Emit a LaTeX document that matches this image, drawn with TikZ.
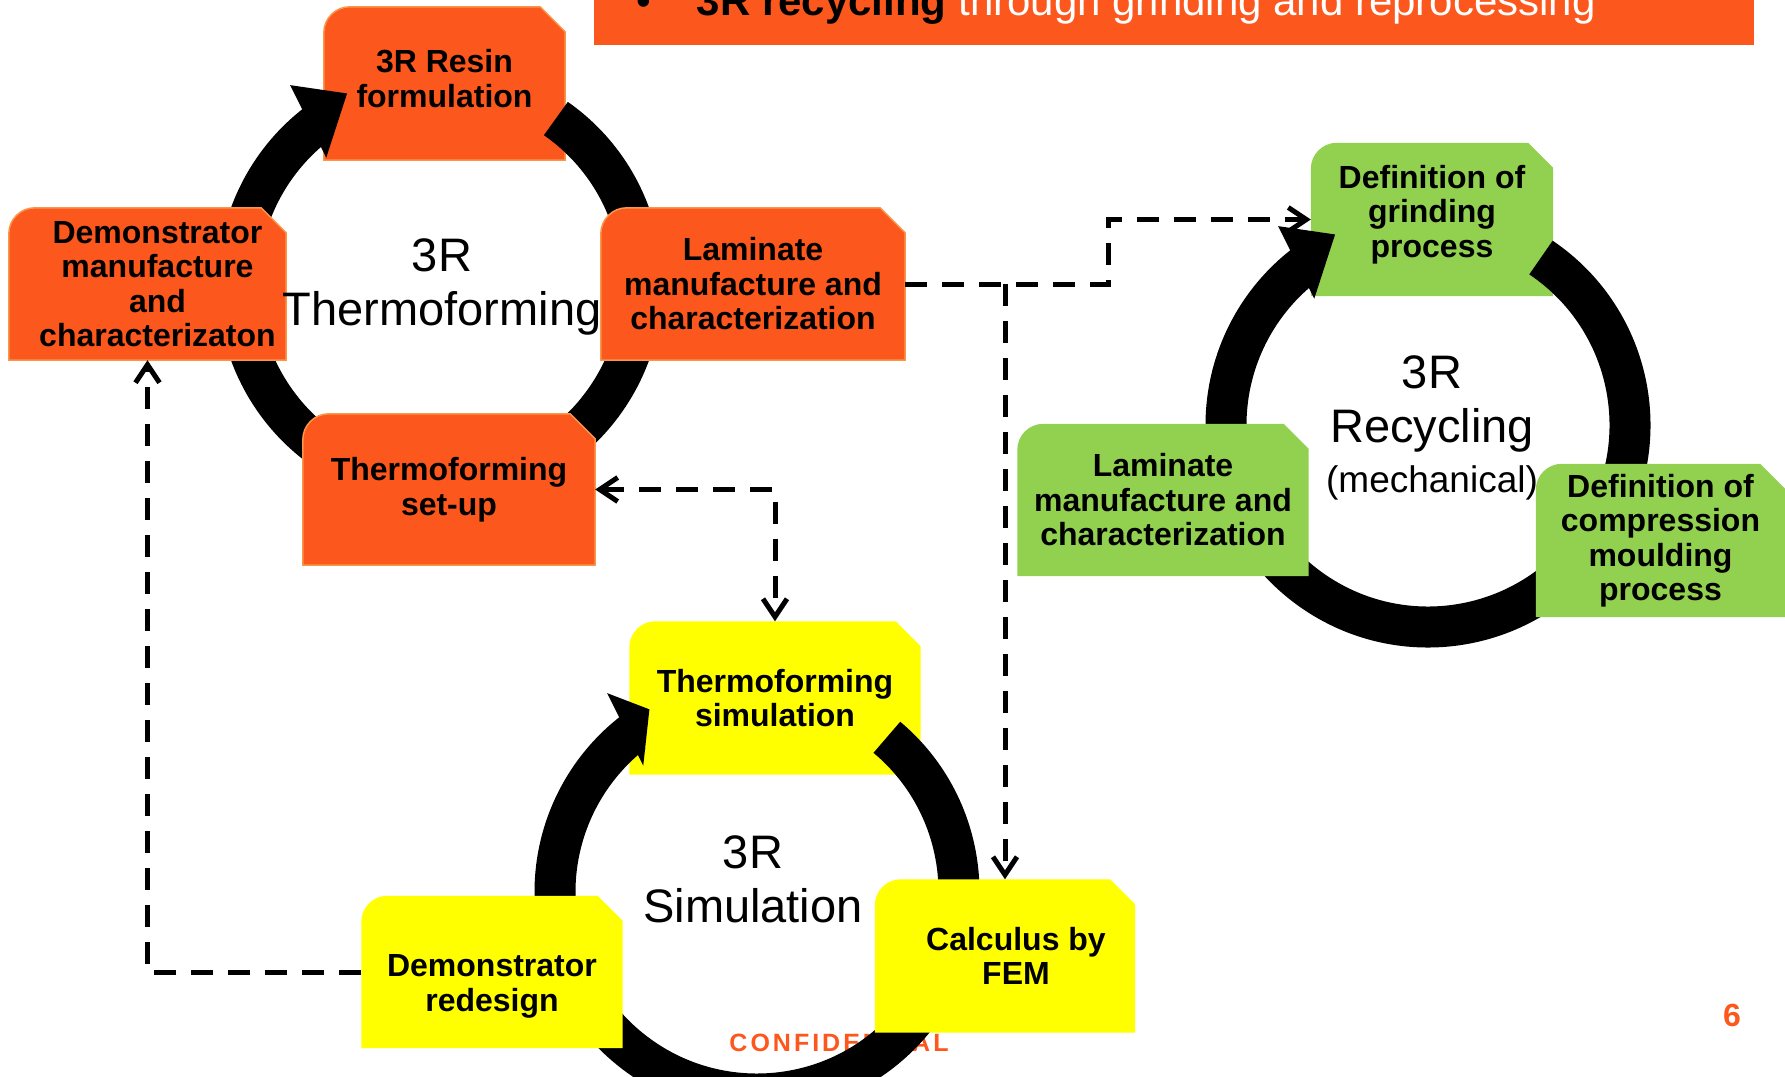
\documentclass[tikz,border=0pt]{standalone}
\usepackage{fontspec}
\setmainfont{Liberation Sans}
\usetikzlibrary{arrows.meta}

\definecolor{orangeF}{RGB}{252,87,28}
\definecolor{orangeE}{RGB}{250,150,75}
\definecolor{greenF}{RGB}{146,208,80}
\definecolor{yellowF}{RGB}{255,255,0}

\pgfdeclarelayer{back}
\pgfdeclarelayer{ring}
\pgfdeclarelayer{front}
\pgfsetlayers{back,ring,front,main}

\newcommand{\boxfont}{\fontsize{32}{34.5}\selectfont\bfseries}
\newcommand{\ringfont}{\fontsize{47}{54}\selectfont}

% box: round top left corner, cut top right corner
\newcommand{\snipbox}[2]{%
  \path[#2] (#1.south west) -- ([yshift=-26pt]#1.north west)
    arc[start angle=180,end angle=90,radius=26pt]
    -- ([xshift=-25pt]#1.north east) -- ([yshift=-25pt]#1.north east)
    -- (#1.south east) -- cycle;}

% thick circular arrow round a centre, tail at angle #2, tip at angle #3
\newcommand{\cyclearrow}[3]{%
  \draw[line width=41pt,shift={(#1)}] (#2:202) arc[start angle=#2,end angle=232,radius=202];
  \fill[shift={(#1)}] (233:249) -- (#3:212) -- (228:170) -- cycle;}

\begin{document}
\begin{tikzpicture}[x=1pt,y=-1pt,
  box/.style 2 args={minimum width=#1pt,minimum height=#2pt,inner sep=0pt,
    align=center,font=\boxfont},
  dashline/.style={line width=5pt,dash pattern=on 22pt off 15pt},
  >={Straight Barb[length=18pt,width=24pt]}]
 \useasboundingbox (0,0) rectangle (1785,1076);
 \clip (0,0) rectangle (1785,1076);
 % title bar
 \fill[orangeF] (594,-10) rectangle (1754,45);
 \node[anchor=base west,inner sep=0pt,font=\fontsize{42}{50}\selectfont] (title) at (636,15)
   {\textbullet\hspace{46pt}\textbf{3R recycling} \textcolor{white}{through grinding and reprocessing}};
 \coordinate (thermo) at (440,284);
 \coordinate (recyc) at (1428,425);
 \coordinate (simul) at (757,892);
 % boxes
 \node[box={241}{153}] (resin) at (444.5,83.5) {3R Resin\\formulation\rule[-10pt]{0pt}{10pt}};
 \node[box={277}{152}] (demo) at (147.5,284) {\hspace*{20pt}Demonstrator\\\hspace*{20pt}manufacture\\\hspace*{20pt}and\\\hspace*{20pt}characterizaton};
 \node[box={304}{152}] (lamo) at (753,284) {Laminate\\manufacture and\\characterization};
 \node[box={292}{151}] (setup) at (449,489.5) {Thermoforming\\set-up};
 \node[box={242}{153}] (grind) at (1432,219.5) {Definition of\\grinding\\process\rule[-17pt]{0pt}{17pt}};
 \node[box={291}{152}] (lamg) at (1163,500) {Laminate\\manufacture and\\characterization};
 \node[box={249}{153}] (compr) at (1660.5,540.5) {Definition of\\compression\\moulding\\process};
 \node[box={291}{153}] (sim) at (775,698) {Thermoforming\\simulation};
 \node[box={261}{152}] (redes) at (492,972) {\rule{0pt}{51pt}Demonstrator\\redesign};
 \node[box={260}{153}] (calc) at (1005,956) {\hspace*{22pt}Calculus by\\\hspace*{22pt}FEM};
 \begin{pgfonlayer}{back}
  \node[font=\fontsize{25}{30}\selectfont\bfseries\addfontfeatures{LetterSpace=12},text=orangeF] (confid) at (839,1043) {CONFIDENTIAL};
  \snipbox{resin}{fill=orangeF,draw=orangeE,line width=1.5pt}
  \snipbox{grind}{fill=greenF}
  \snipbox{sim}{fill=yellowF}
 \end{pgfonlayer}
 \begin{pgfonlayer}{ring}
  \cyclearrow{thermo}{-55}{244}
  \cyclearrow{recyc}{-56}{244}
  \cyclearrow{simul}{-50}{239.5}
 \end{pgfonlayer}
 \begin{pgfonlayer}{front}
  \snipbox{demo}{fill=orangeF,draw=orangeE,line width=1.5pt}
  \snipbox{lamo}{fill=orangeF,draw=orangeE,line width=1.5pt}
  \snipbox{setup}{fill=orangeF,draw=orangeE,line width=1.5pt}
  \snipbox{lamg}{fill=greenF}
  \snipbox{compr}{fill=greenF}
  \snipbox{redes}{fill=yellowF}
  \snipbox{calc}{fill=yellowF}
 \end{pgfonlayer}
 % cycle names
 \node[align=center,font=\ringfont] (thermoT) at (442,287) {3R\\Thermoforming};
 \node[align=center,font=\ringfont] (recycT) at (1432,428) {3R\\Recycling\\[-4pt]{\fontsize{37}{42}\selectfont(mechanical)}};
 \node[align=center,font=\ringfont] (simulT) at (753,879) {3R\\Simulation};
 \node[font=\fontsize{32}{36}\selectfont\bfseries,text=orangeF] (pagenum) at (1732,1015) {6};
 % links
 \coordinate (bend) at (1108,250);
 \draw[dashline,->] (lamo.east) -- (lamo.east -| bend) |- (grind.west);
 \draw[dashline,->] (calc.north |- lamo.east) -- (calc.north);
 \draw[dashline,<->] (setup.east) -| (sim.north);
 \draw[dashline,->] (redes.west) -| (demo.south);
\end{tikzpicture}
\end{document}
